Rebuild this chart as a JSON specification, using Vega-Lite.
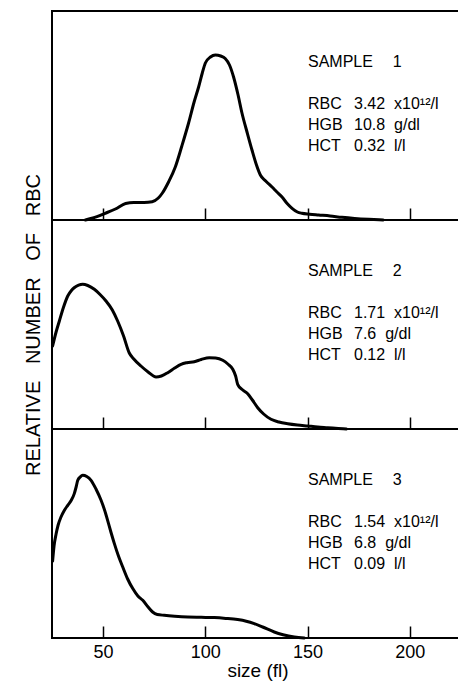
{
  "$schema": "https://vega.github.io/schema/vega-lite/v6.json",
  "padding": {"left": 21, "top": 10, "right": 0, "bottom": 0},
  "background": "white",
  "spacing": 0,
  "bounds": "flush",
  "config": {
    "view": {"stroke": "black", "strokeWidth": 2},
    "concat": {"spacing": 0},
    "font": "Liberation Sans",
    "axis": {"grid": false, "domain": false, "tickColor": "black", "tickWidth": 1.5, "labelColor": "black", "titleColor": "black", "titleFontWeight": "normal"}
  },
  "datasets": {
    "curves": [
      {"sample": 1, "size": 41.3, "count": 0}, {"sample": 1, "size": 45, "count": 2}, {"sample": 1, "size": 51, "count": 6.7}, {"sample": 1, "size": 56, "count": 11}, {"sample": 1, "size": 61, "count": 16.5}, {"sample": 1, "size": 65, "count": 17.5}, {"sample": 1, "size": 70, "count": 17.5}, {"sample": 1, "size": 74, "count": 18.3}, {"sample": 1, "size": 77, "count": 22}, {"sample": 1, "size": 79, "count": 27}, {"sample": 1, "size": 82, "count": 38}, {"sample": 1, "size": 85.3, "count": 53}, {"sample": 1, "size": 88.5, "count": 74}, {"sample": 1, "size": 91.8, "count": 97}, {"sample": 1, "size": 94.5, "count": 118}, {"sample": 1, "size": 96.7, "count": 133}, {"sample": 1, "size": 98.5, "count": 147}, {"sample": 1, "size": 100, "count": 157}, {"sample": 1, "size": 102.5, "count": 163}, {"sample": 1, "size": 104.9, "count": 165}, {"sample": 1, "size": 107.5, "count": 164}, {"sample": 1, "size": 109.7, "count": 161.5}, {"sample": 1, "size": 111.8, "count": 155}, {"sample": 1, "size": 113.8, "count": 143}, {"sample": 1, "size": 116, "count": 125}, {"sample": 1, "size": 117.9, "count": 107}, {"sample": 1, "size": 120.5, "count": 87}, {"sample": 1, "size": 122.8, "count": 70}, {"sample": 1, "size": 125, "count": 55}, {"sample": 1, "size": 126.9, "count": 45}, {"sample": 1, "size": 129.5, "count": 39}, {"sample": 1, "size": 132.6, "count": 33}, {"sample": 1, "size": 135, "count": 28}, {"sample": 1, "size": 137.5, "count": 23}, {"sample": 1, "size": 140, "count": 16.5}, {"sample": 1, "size": 142.4, "count": 11.7}, {"sample": 1, "size": 145, "count": 8}, {"sample": 1, "size": 147.2, "count": 6.7}, {"sample": 1, "size": 151, "count": 5.8}, {"sample": 1, "size": 155.4, "count": 5}, {"sample": 1, "size": 161, "count": 4}, {"sample": 1, "size": 166.8, "count": 2.7}, {"sample": 1, "size": 173, "count": 1.6}, {"sample": 1, "size": 179.9, "count": 0.7}, {"sample": 1, "size": 187, "count": 0},
      {"sample": 2, "size": 25.3, "count": 83}, {"sample": 2, "size": 27, "count": 97}, {"sample": 2, "size": 28.6, "count": 108}, {"sample": 2, "size": 30.5, "count": 121}, {"sample": 2, "size": 32.7, "count": 133}, {"sample": 2, "size": 34.5, "count": 138.5}, {"sample": 2, "size": 36, "count": 141.5}, {"sample": 2, "size": 38, "count": 143.8}, {"sample": 2, "size": 40, "count": 144.7}, {"sample": 2, "size": 42.5, "count": 143.5}, {"sample": 2, "size": 45.7, "count": 139.7}, {"sample": 2, "size": 48.5, "count": 134.5}, {"sample": 2, "size": 51.4, "count": 128}, {"sample": 2, "size": 54.5, "count": 119}, {"sample": 2, "size": 57.1, "count": 108}, {"sample": 2, "size": 60, "count": 93}, {"sample": 2, "size": 62.8, "count": 76}, {"sample": 2, "size": 65, "count": 70}, {"sample": 2, "size": 68.5, "count": 63}, {"sample": 2, "size": 72, "count": 57}, {"sample": 2, "size": 75.9, "count": 52}, {"sample": 2, "size": 78.5, "count": 53}, {"sample": 2, "size": 81.6, "count": 56.3}, {"sample": 2, "size": 85, "count": 61}, {"sample": 2, "size": 88.1, "count": 64.7}, {"sample": 2, "size": 91, "count": 66.3}, {"sample": 2, "size": 94.6, "count": 67.3}, {"sample": 2, "size": 98, "count": 69.5}, {"sample": 2, "size": 101.9, "count": 71.3}, {"sample": 2, "size": 105, "count": 71}, {"sample": 2, "size": 108.5, "count": 68.7}, {"sample": 2, "size": 111, "count": 65}, {"sample": 2, "size": 113.4, "count": 59.7}, {"sample": 2, "size": 114.8, "count": 53}, {"sample": 2, "size": 115.8, "count": 44.7}, {"sample": 2, "size": 118, "count": 39.5}, {"sample": 2, "size": 120.7, "count": 35.3}, {"sample": 2, "size": 123, "count": 29}, {"sample": 2, "size": 125.6, "count": 21.3}, {"sample": 2, "size": 128.5, "count": 15}, {"sample": 2, "size": 132.1, "count": 9.7}, {"sample": 2, "size": 136, "count": 7}, {"sample": 2, "size": 140.3, "count": 5.3}, {"sample": 2, "size": 145, "count": 4}, {"sample": 2, "size": 150, "count": 3}, {"sample": 2, "size": 155, "count": 2}, {"sample": 2, "size": 159.8, "count": 1.3}, {"sample": 2, "size": 165, "count": 0.5}, {"sample": 2, "size": 169, "count": 0},
      {"sample": 3, "size": 25.3, "count": 77}, {"sample": 3, "size": 26, "count": 92}, {"sample": 3, "size": 27, "count": 104}, {"sample": 3, "size": 28, "count": 113}, {"sample": 3, "size": 29.4, "count": 121}, {"sample": 3, "size": 31, "count": 127.5}, {"sample": 3, "size": 32.7, "count": 132.7}, {"sample": 3, "size": 34.5, "count": 138}, {"sample": 3, "size": 35.9, "count": 144.4}, {"sample": 3, "size": 36.8, "count": 151}, {"sample": 3, "size": 37.6, "count": 157.7}, {"sample": 3, "size": 38.8, "count": 161}, {"sample": 3, "size": 40, "count": 162.7}, {"sample": 3, "size": 42, "count": 161.5}, {"sample": 3, "size": 44.1, "count": 157.7}, {"sample": 3, "size": 46.5, "count": 149}, {"sample": 3, "size": 49, "count": 137.7}, {"sample": 3, "size": 50.7, "count": 128}, {"sample": 3, "size": 52.2, "count": 117.7}, {"sample": 3, "size": 53.8, "count": 106}, {"sample": 3, "size": 55.5, "count": 94.4}, {"sample": 3, "size": 57.5, "count": 82}, {"sample": 3, "size": 59.6, "count": 71}, {"sample": 3, "size": 62, "count": 59}, {"sample": 3, "size": 64.5, "count": 49.4}, {"sample": 3, "size": 67, "count": 42}, {"sample": 3, "size": 69.4, "count": 37.7}, {"sample": 3, "size": 72, "count": 31}, {"sample": 3, "size": 74.2, "count": 26}, {"sample": 3, "size": 76.5, "count": 23.5}, {"sample": 3, "size": 79.9, "count": 22.7}, {"sample": 3, "size": 85, "count": 21.8}, {"sample": 3, "size": 91.4, "count": 21}, {"sample": 3, "size": 98, "count": 20.7}, {"sample": 3, "size": 104.4, "count": 20.4}, {"sample": 3, "size": 110, "count": 19.6}, {"sample": 3, "size": 115.8, "count": 18.4}, {"sample": 3, "size": 120, "count": 16.8}, {"sample": 3, "size": 123.9, "count": 14.4}, {"sample": 3, "size": 128, "count": 11}, {"sample": 3, "size": 133.7, "count": 6}, {"sample": 3, "size": 138, "count": 3.3}, {"sample": 3, "size": 143.5, "count": 1}, {"sample": 3, "size": 148.4, "count": 0}
    ],
    "notes": [
      {"sample": 1, "x": 150.2, "y": 153, "text": "SAMPLE"}, {"sample": 1, "x": 191.7, "y": 153, "text": "1"},
      {"sample": 1, "x": 150.2, "y": 111, "text": "RBC"}, {"sample": 1, "x": 172.7, "y": 111, "text": "3.42\u00a0 x10¹²/l"},
      {"sample": 1, "x": 150.2, "y": 90, "text": "HGB"}, {"sample": 1, "x": 172.7, "y": 90, "text": "10.8\u00a0 g/dl"},
      {"sample": 1, "x": 150.2, "y": 69, "text": "HCT"}, {"sample": 1, "x": 172.7, "y": 69, "text": "0.32\u00a0 l/l"},
      {"sample": 2, "x": 150.2, "y": 153, "text": "SAMPLE"}, {"sample": 2, "x": 191.7, "y": 153, "text": "2"},
      {"sample": 2, "x": 150.2, "y": 111, "text": "RBC"}, {"sample": 2, "x": 172.7, "y": 111, "text": "1.71\u00a0 x10¹²/l"},
      {"sample": 2, "x": 150.2, "y": 90, "text": "HGB"}, {"sample": 2, "x": 172.7, "y": 90, "text": "7.6\u00a0 g/dl"},
      {"sample": 2, "x": 150.2, "y": 69, "text": "HCT"}, {"sample": 2, "x": 172.7, "y": 69, "text": "0.12\u00a0 l/l"},
      {"sample": 3, "x": 150.2, "y": 153, "text": "SAMPLE"}, {"sample": 3, "x": 191.7, "y": 153, "text": "3"},
      {"sample": 3, "x": 150.2, "y": 111, "text": "RBC"}, {"sample": 3, "x": 172.7, "y": 111, "text": "1.54\u00a0 x10¹²/l"},
      {"sample": 3, "x": 150.2, "y": 90, "text": "HGB"}, {"sample": 3, "x": 172.7, "y": 90, "text": "6.8\u00a0 g/dl"},
      {"sample": 3, "x": 150.2, "y": 69, "text": "HCT"}, {"sample": 3, "x": 172.7, "y": 69, "text": "0.09\u00a0 l/l"}
    ]
  },
  "vconcat": [
    {
      "width": 411, "height": 209,
      "layer": [
        {
          "data": {"name": "curves"},
          "transform": [{"filter": "datum.sample == 1"}],
          "mark": {"type": "line", "interpolate": "monotone", "color": "black", "strokeWidth": 3, "strokeCap": "round"},
          "encoding": {
            "x": {"field": "size", "type": "quantitative", "scale": {"domain": [25, 226], "nice": false, "zero": false}, "axis": {"values": [50, 100, 150, 200], "labels": false, "title": null, "tickSize": -12}},
            "y": {"field": "count", "type": "quantitative", "scale": {"domain": [0, 209], "nice": false}, "axis": {"title": null, "labels": false, "ticks": false}}
          }
        },
        {
          "data": {"name": "notes"},
          "transform": [{"filter": "datum.sample == 1"}],
          "mark": {"type": "text", "align": "left", "baseline": "alphabetic", "fontSize": 16, "color": "black"},
          "encoding": {
            "x": {"field": "x", "type": "quantitative"},
            "y": {"field": "y", "type": "quantitative"},
            "text": {"field": "text"}
          }
        }
      ]
    },
    {
      "width": 411, "height": 209,
      "layer": [
        {
          "data": {"name": "curves"},
          "transform": [{"filter": "datum.sample == 2"}],
          "mark": {"type": "line", "interpolate": "monotone", "color": "black", "strokeWidth": 3, "strokeCap": "round"},
          "encoding": {
            "x": {"field": "size", "type": "quantitative", "scale": {"domain": [25, 226], "nice": false, "zero": false}, "axis": {"values": [50, 100, 150, 200], "labels": false, "title": null, "tickSize": -12}},
            "y": {"field": "count", "type": "quantitative", "scale": {"domain": [0, 209], "nice": false}, "axis": {"title": "RELATIVE\u00a0\u00a0\u00a0NUMBER\u00a0\u00a0\u00a0OF\u00a0\u00a0\u00a0RBC", "titleFontSize": 20, "titlePadding": 9, "labels": false, "ticks": false}}
          }
        },
        {
          "data": {"name": "notes"},
          "transform": [{"filter": "datum.sample == 2"}],
          "mark": {"type": "text", "align": "left", "baseline": "alphabetic", "fontSize": 16, "color": "black"},
          "encoding": {
            "x": {"field": "x", "type": "quantitative"},
            "y": {"field": "y", "type": "quantitative"},
            "text": {"field": "text"}
          }
        }
      ]
    },
    {
      "width": 411, "height": 209,
      "layer": [
        {
          "data": {"name": "curves"},
          "transform": [{"filter": "datum.sample == 3"}],
          "mark": {"type": "line", "interpolate": "monotone", "color": "black", "strokeWidth": 3, "strokeCap": "round"},
          "encoding": {
            "x": {"field": "size", "type": "quantitative", "scale": {"domain": [25, 226], "nice": false, "zero": false}, "axis": {"values": [50, 100, 150, 200], "title": "size (fl)", "titleFontSize": 19, "titlePadding": 0, "labelFontSize": 18, "labelPadding": 17, "tickSize": -12}},
            "y": {"field": "count", "type": "quantitative", "scale": {"domain": [0, 209], "nice": false}, "axis": {"title": null, "labels": false, "ticks": false}}
          }
        },
        {
          "data": {"name": "notes"},
          "transform": [{"filter": "datum.sample == 3"}],
          "mark": {"type": "text", "align": "left", "baseline": "alphabetic", "fontSize": 16, "color": "black"},
          "encoding": {
            "x": {"field": "x", "type": "quantitative"},
            "y": {"field": "y", "type": "quantitative"},
            "text": {"field": "text"}
          }
        }
      ]
    }
  ]
}
